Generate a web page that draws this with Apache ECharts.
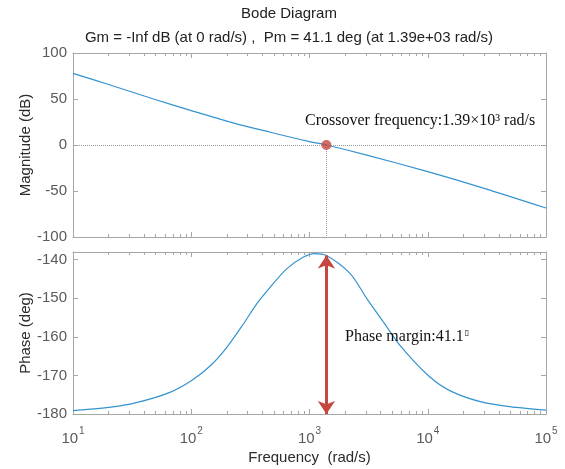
<!DOCTYPE html>
<html>
<head>
<meta charset="utf-8">
<script src="https://cdn.jsdelivr.net/npm/echarts@6/dist/echarts.min.js"></script>
<style>
  html, body { margin: 0; padding: 0; background: #fff; }
  #chart { width: 565px; height: 469px; }
</style>
</head>
<body>
<div id="chart"></div>
<script>
// magnitude readings (rad/s, dB)
const magFreq = [10, 20, 48, 100, 214, 466, 1000, 1390, 3055, 10000, 29500, 100000]
const magDb = [77.8, 65.8, 50.0, 37.4, 24.9, 13.9, 3.7, 0, -11.0, -29.0, -46.8, -68.5]

// phase readings (rad/s, deg)
const phaseFreq = [10, 20, 35, 66, 100, 145, 200, 277, 359, 466, 644, 890, 1100, 1390, 2208, 3055, 4226, 5847, 10140, 15490, 29500, 56600, 100000]
const phaseDeg = [-179.1, -178.3, -177.0, -174.4, -171.4, -167.5, -162.7, -156.6, -151.4, -147.1, -142.3, -139.3, -138.4, -138.9, -143.6, -150.1, -156.2, -162.3, -170.1, -174.0, -177.0, -178.3, -179.0]

const crossoverFreq = 1390
const phaseMargin = 41.1

const freqTicks = [10, 100, 1000, 10000, 100000]
const freqTickExp = ['1', '2', '3', '4', '5']
const magTicks = { min: -100, max: 100, interval: 50 }
const phaseTicks = { min: -180, max: -138, interval: 10 }

const frameColor = '#a6a6a6'
const labelColor = '#5a5a5a'
const curveColor = '#3593d0'
const markRed = '#c4483f'

const chart = echarts.init(document.getElementById('chart'), null, { renderer: 'canvas' })

const freqAxis = (gridIndex, position, showLabel) => ({
  type: 'log',
  logBase: 10,
  gridIndex: gridIndex,
  position: position,
  min: 10,
  max: 100000,
  axisLine: { show: true, onZero: false, lineStyle: { color: frameColor, width: 1 } },
  axisTick: { show: true, inside: true, length: 5, lineStyle: { color: frameColor } },
  minorTick: { show: true, splitNumber: 9, length: 3, lineStyle: { color: frameColor } },
  splitLine: { show: false },
  minorSplitLine: { show: false },
  axisLabel: {
    show: showLabel,
    margin: 12,
    formatter: (v) => {
      const i = freqTicks.indexOf(Math.round(v))
      return i < 0 ? '' : '{b|10}{s|' + freqTickExp[i] + '}'
    },
    rich: {
      b: { fontSize: 15, color: labelColor, fontFamily: 'Liberation Sans', lineHeight: 20, verticalAlign: 'bottom' },
      s: { fontSize: 10, color: labelColor, fontFamily: 'Liberation Sans', lineHeight: 20, verticalAlign: 'top', padding: [0, 0, 0, 1] }
    }
  }
})

const valueAxis = (gridIndex, position, ticks, showLabel, name) => ({
  type: 'value',
  gridIndex: gridIndex,
  position: position,
  min: ticks.min,
  max: ticks.max,
  interval: ticks.interval,
  name: name,
  nameLocation: 'middle',
  nameGap: 40,
  nameMoveOverlap: false,
  nameTextStyle: { fontSize: 15, color: '#2b2b2b', fontFamily: 'Liberation Sans' },
  axisLine: { show: true, onZero: false, lineStyle: { color: frameColor, width: 1 } },
  axisTick: { show: true, inside: true, length: 5, lineStyle: { color: frameColor } },
  splitLine: { show: false },
  axisLabel: {
    show: showLabel,
    showMaxLabel: ticks.max % ticks.interval === 0,
    margin: 6,
    fontSize: 15,
    color: labelColor,
    fontFamily: 'Liberation Sans'
  }
})

const option = {
  animation: false,
  backgroundColor: '#fff',
  title: [
    {
      text: 'Bode Diagram',
      left: 284,
      top: 1,
      textAlign: 'center',
      textStyle: { fontSize: 15, fontWeight: 'normal', color: '#222', fontFamily: 'Liberation Sans' }
    },
    {
      text: 'Gm = -Inf dB (at 0 rad/s) ,  Pm = 41.1 deg (at 1.39e+03 rad/s)',
      left: 284,
      top: 25,
      textAlign: 'center',
      textStyle: { fontSize: 15, fontWeight: 'normal', color: '#222', fontFamily: 'Liberation Sans' }
    }
  ],
  grid: [
    { left: 73, width: 473, top: 53, height: 184 },
    { left: 73, width: 473, top: 252, height: 162 }
  ],
  xAxis: [
    freqAxis(0, 'bottom', false),
    freqAxis(0, 'top', false),
    Object.assign(freqAxis(1, 'bottom', true), {
      name: 'Frequency  (rad/s)',
      nameLocation: 'middle',
      nameGap: 36,
      nameTextStyle: { fontSize: 15, color: '#2b2b2b', fontFamily: 'Liberation Sans' }
    }),
    freqAxis(1, 'top', false)
  ],
  yAxis: [
    valueAxis(0, 'left', magTicks, true, 'Magnitude (dB)'),
    valueAxis(0, 'right', magTicks, false, ''),
    valueAxis(1, 'left', phaseTicks, true, 'Phase (deg)'),
    valueAxis(1, 'right', phaseTicks, false, '')
  ],
  series: [
    {
      name: 'Magnitude',
      type: 'line',
      xAxisIndex: 0,
      yAxisIndex: 0,
      data: magFreq.map((f, i) => [f, magDb[i]]),
      smooth: 0.3,
      showSymbol: false,
      lineStyle: { color: curveColor, width: 1.2 },
      z: 3,
      markLine: {
        silent: true,
        symbol: 'none',
        label: { show: false },
        lineStyle: { color: '#9a9a9a', type: 'dotted', width: 1 },
        data: [
          { yAxis: 0 },
          [{ coord: [crossoverFreq, 0] }, { coord: [crossoverFreq, magTicks.min] }]
        ]
      }
    },
    {
      name: 'Crossover',
      type: 'scatter',
      xAxisIndex: 0,
      yAxisIndex: 0,
      data: [[crossoverFreq, 0]],
      symbolSize: 10,
      itemStyle: { color: markRed },
      z: 5
    },
    {
      name: 'Phase',
      type: 'line',
      xAxisIndex: 2,
      yAxisIndex: 2,
      data: phaseFreq.map((f, i) => [f, phaseDeg[i]]),
      smooth: 0.3,
      showSymbol: false,
      lineStyle: { color: curveColor, width: 1.2 },
      z: 3,
      markLine: {
        silent: true,
        symbol: ['arrow', 'arrow'],
        symbolSize: 13,
        label: { show: false },
        lineStyle: { color: markRed, type: 'solid', width: 3 },
        data: [
          [{ coord: [crossoverFreq, phaseTicks.min] }, { coord: [crossoverFreq, phaseTicks.min + phaseMargin] }]
        ]
      }
    }
  ],
  graphic: [
    {
      type: 'text',
      left: 305,
      top: 113,
      z: 10,
      style: {
        text: 'Crossover frequency:1.39×10³ rad/s',
        fontFamily: 'Liberation Serif',
        fontSize: 16,
        fill: '#111'
      }
    },
    {
      type: 'text',
      left: 345,
      top: 329,
      z: 10,
      style: {
        text: '{t|Phase margin:41.1}{d|\u25AF}',
        rich: {
          t: { fontFamily: 'Liberation Serif', fontSize: 16, fill: '#111', color: '#111' },
          d: { fontFamily: 'DejaVu Sans', fontSize: 8, color: '#aaa', verticalAlign: 'top', padding: [0, 0, 8, 1] }
        }
      }
    }
  ]
}

chart.setOption(option)
</script>
</body>
</html>
